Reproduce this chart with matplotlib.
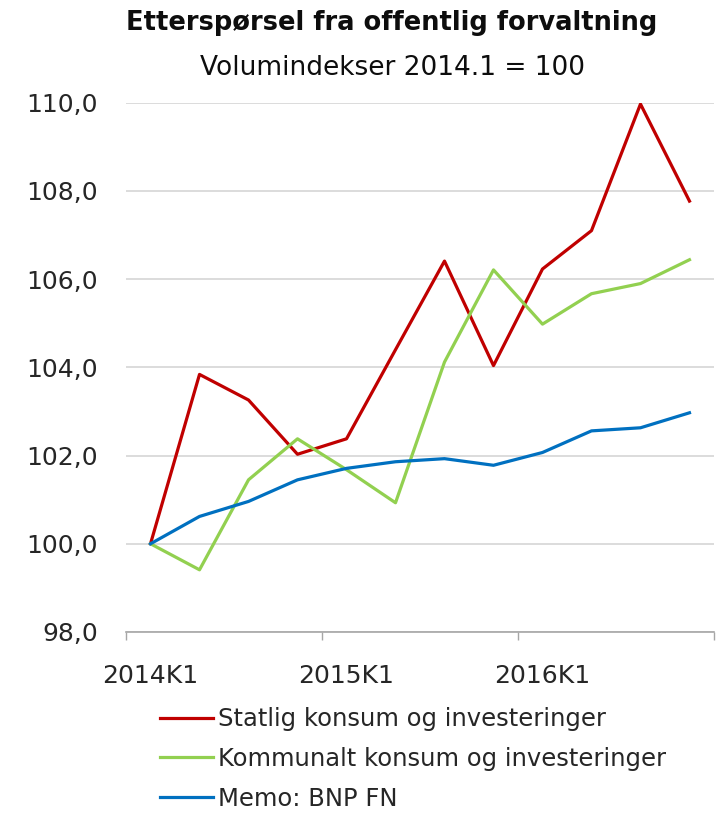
import matplotlib.pyplot as plt
import numpy as np

# -----------------------------
# Data (volumindekser, 2014K1 = 100)
# -----------------------------
quarters = ['2014K1', '2014K2', '2014K3', '2014K4',
            '2015K1', '2015K2', '2015K3', '2015K4',
            '2016K1', '2016K2', '2016K3', '2016K4']
statlig = [100.0, 103.84, 103.26, 102.03, 102.38, 104.4,
           106.41, 104.04, 106.23, 107.1, 109.97, 107.77]
kommunalt = [100.0, 99.41, 101.45, 102.38, 101.68, 100.93,
             104.12, 106.21, 104.98, 105.67, 105.9, 106.44]
bnp_fn = [100.0, 100.62, 100.96, 101.45, 101.71, 101.86,
          101.93, 101.78, 102.07, 102.56, 102.63, 102.97]
y_ticks = [98, 100, 102, 104, 106, 108, 110]
label_quarters = ['2014K1', '2015K1', '2016K1']

plt.rcParams['font.family'] = ['DejaVu Sans']

fig = plt.figure(figsize=(7.18, 8.16), dpi=100)
ax = fig.add_axes([0.1755, 0.2255, 0.8189, 0.6486])

x = np.arange(len(quarters))
ax.plot(x, statlig, color='#C00000', lw=2.3, label='Statlig konsum og investeringer')
ax.plot(x, kommunalt, color='#92D050', lw=2.3, label='Kommunalt konsum og investeringer')
ax.plot(x, bnp_fn, color='#0070C0', lw=2.3, label='Memo: BNP FN')

ax.set_xlim(-0.5, 11.5)
ax.set_ylim(98, 110)

# y-axis
ax.set_yticks(y_ticks)
ax.set_yticklabels([f'{v:.1f}'.replace('.', ',') for v in y_ticks])
ax.tick_params(axis='y', length=0, pad=20, labelsize=18, colors='#262626')
ax.grid(axis='y', color='#d9d9d9', lw=1.3)
ax.set_axisbelow(True)

# x-axis: ticks between groups of four quarters, labels on first quarter
ax.set_xticks([-0.5, 3.5, 7.5, 11.5])
ax.set_xticklabels([])
ax.tick_params(axis='x', which='major', length=6, color='#a6a6a6', width=1)
ax.set_xticks([quarters.index(q) for q in label_quarters], minor=True)
ax.set_xticklabels(label_quarters, minor=True)
ax.tick_params(axis='x', which='minor', length=0, pad=23, labelsize=18, colors='#262626')

for s in ['left', 'right', 'top']:
    ax.spines[s].set_visible(False)
ax.spines['bottom'].set_color('#a6a6a6')
ax.spines['bottom'].set_linewidth(1.2)

# titles
fig.text(0.545, 0.972, 'Etterspørsel fra offentlig forvaltning',
         ha='center', va='center', fontsize=18.5, fontweight='bold', color='#0d0d0d')
fig.text(0.546, 0.917, 'Volumindekser 2014.1 = 100',
         ha='center', va='center', fontsize=19, color='#0d0d0d')

# legend
fig.legend(loc='upper left', bbox_to_anchor=(0.209, 0.145), frameon=False,
           fontsize=17.5, handlelength=2.2, handletextpad=0.2, labelspacing=0.64,
           borderaxespad=0, labelcolor='#262626')

fig.savefig('out.png', dpi=100)
